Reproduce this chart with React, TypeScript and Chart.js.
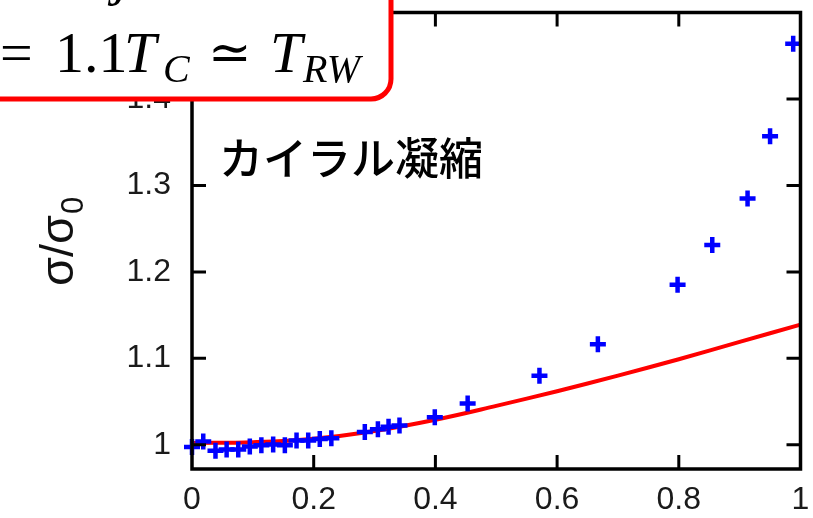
import React, { useEffect, useRef } from "react";
import { Chart, registerables } from "chart.js";
Chart.register(...registerables);

// measured σ/σ0 points (blue crosses)
const sigmaX = [0, 0.0185, 0.0386, 0.0569, 0.076, 0.095, 0.114, 0.1334, 0.1526, 0.1718, 0.191, 0.21, 0.229, 0.284, 0.3055, 0.323, 0.341, 0.399, 0.453, 0.571, 0.667, 0.798, 0.855, 0.913, 0.95, 0.988];
const sigmaY = [0.9975, 1.0037, 0.993, 0.9945, 0.9945, 0.998, 0.9995, 1.0003, 0.9995, 1.005, 1.005, 1.0066, 1.0075, 1.0147, 1.018, 1.021, 1.0224, 1.032, 1.0477, 1.08, 1.1163, 1.185, 1.231, 1.285, 1.357, 1.464];
// red curve
const fitX = [0, 0.1, 0.2, 0.3, 0.4, 0.5, 0.6, 0.7, 0.8, 0.9, 1.0];
const fitY = [1.002, 1.003, 1.007, 1.016, 1.029, 1.045, 1.062, 1.08, 1.099, 1.119, 1.139];
// ticks
const xTicks = [0, 0.2, 0.4, 0.6, 0.8, 1];
const yTicks = [1, 1.1, 1.2, 1.3, 1.4];
const xLabels = ["0", "0.2", "0.4", "0.6", "0.8", "1"];
const yLabels = ["1", "1.1", "1.2", "1.3", "1.4"];

const annotationText = "カイラル凝縮";
const yTitleMain = "σ/σ";
const yTitleSub = "0";

const framePlugin = {
  id: "frame",
  afterDatasetsDraw(chart: any) {
    const { ctx, chartArea: a, scales } = chart;
    ctx.save();
    ctx.strokeStyle = "#000";
    ctx.lineWidth = 3.5;
    ctx.strokeRect(a.left, a.top, a.right - a.left, a.bottom - a.top);
    const L = 14;
    ctx.lineWidth = 3;
    ctx.beginPath();
    for (const v of xTicks) {
      if (v <= 0 || v >= 1) continue;
      const px = scales.x.getPixelForValue(v);
      ctx.moveTo(px, a.bottom);
      ctx.lineTo(px, a.bottom - L);
      ctx.moveTo(px, a.top);
      ctx.lineTo(px, a.top + L);
    }
    for (const v of yTicks) {
      const py = scales.y.getPixelForValue(v);
      ctx.moveTo(a.left, py);
      ctx.lineTo(a.left + L, py);
      ctx.moveTo(a.right, py);
      ctx.lineTo(a.right - L, py);
    }
    ctx.stroke();
    ctx.restore();
  },
};

const annotPlugin = {
  id: "annot",
  afterDraw(chart: any) {
    const { ctx, chartArea: a } = chart;
    ctx.save();
    // y-axis title (rotated)
    ctx.save();
    ctx.translate(73, 286);
    ctx.rotate(-Math.PI / 2);
    ctx.fillStyle = "#111";
    ctx.textBaseline = "alphabetic";
    ctx.textAlign = "left";
    ctx.font = "47px 'Liberation Sans', Arial, sans-serif";
    ctx.fillText(yTitleMain, 0, 0);
    const w = ctx.measureText(yTitleMain).width;
    ctx.font = "31px 'Liberation Sans', Arial, sans-serif";
    ctx.fillText(yTitleSub, w + 1, 10);
    ctx.restore();

    // chiral condensate label
    ctx.fillStyle = "#000";
    ctx.font = "500 44px 'Noto Sans CJK JP', sans-serif";
    ctx.textBaseline = "alphabetic";
    ctx.textAlign = "left";
    ctx.fillText(annotationText, a.left + 27, 175);

    // legend-like box
    ctx.beginPath();
    ctx.roundRect(-30, -60, 421, 159, 20);
    ctx.fillStyle = "#fff";
    ctx.fill();
    ctx.lineWidth = 5;
    ctx.strokeStyle = "#ff0000";
    ctx.stroke();

    ctx.fillStyle = "#000";
    const main = "58px 'Liberation Serif', 'DejaVu Serif', serif";
    const mainIt = "italic 58px 'Liberation Serif', 'DejaVu Serif', serif";
    const subIt = "italic 40px 'Liberation Serif', 'DejaVu Serif', serif";
    const rel = "52px 'DejaVu Serif', serif";
    ctx.font = mainIt;
    ctx.fillText("j", 114, -6);
    ctx.font = main;
    ctx.fillText("=", 0, 72);
    ctx.fillText("1.1", 55, 72);
    ctx.font = mainIt;
    ctx.fillText("T", 124, 72);
    ctx.font = subIt;
    ctx.fillText("C", 163, 82);
    ctx.font = rel;
    ctx.fillText("≃", 208, 70);
    ctx.font = mainIt;
    ctx.fillText("T", 270, 72);
    ctx.font = subIt;
    ctx.fillText("RW", 303, 82);
    ctx.restore();
  },
};

const zeroPad = (s: any) => {
  s.paddingTop = 0;
  s.paddingBottom = 0;
  s.paddingLeft = 0;
  s.paddingRight = 0;
};

export default function App() {
  const ref = useRef<HTMLCanvasElement | null>(null);
  useEffect(() => {
    if (!ref.current) return;
    const tickFont = { family: "'Liberation Sans', Arial, sans-serif", size: 32 };
    const chart = new Chart(ref.current, {
      type: "scatter",
      data: {
        datasets: [
          {
            label: "data",
            data: sigmaX.map((x, i) => ({ x, y: sigmaY[i] })),
            pointStyle: "cross",
            pointRadius: 8,
            pointHoverRadius: 8,
            borderColor: "#0000ff",
            backgroundColor: "#0000ff",
            pointBorderWidth: 4.5,
            borderWidth: 4.5,
            showLine: false,
            clip: false as any,
          },
          {
            label: "fit",
            data: fitX.map((x, i) => ({ x, y: fitY[i] })),
            showLine: true,
            borderColor: "#ff0000",
            borderWidth: 4,
            pointRadius: 0,
            tension: 0.4,
          },
        ],
      },
      options: {
        animation: false,
        responsive: false,
        events: [],
        layout: { padding: { top: 10, right: 11, left: 0, bottom: 0 } },
        plugins: { legend: { display: false }, tooltip: { enabled: false } },
        scales: {
          x: {
            type: "linear",
            min: 0,
            max: 1,
            afterBuildTicks: (s: any) => {
              s.ticks = xTicks.map((v) => ({ value: v }));
            },
            afterFit: (s: any) => {
              s.height = 49;
              zeroPad(s);
            },
            grid: { display: false, drawTicks: false },
            border: { display: false },
            ticks: {
              font: tickFont,
              color: "#1a1a1a",
              padding: 12,
              maxRotation: 0,
              autoSkip: false,
              callback: (v: any) => xLabels[xTicks.indexOf(Number(v))] ?? "",
            },
          },
          y: {
            type: "linear",
            min: 0.972,
            max: 1.5,
            afterBuildTicks: (s: any) => {
              s.ticks = yTicks.map((v) => ({ value: v }));
            },
            afterFit: (s: any) => {
              s.width = 192;
              zeroPad(s);
            },
            grid: { display: false, drawTicks: false },
            border: { display: false },
            ticks: {
              font: tickFont,
              color: "#1a1a1a",
              padding: 21,
              autoSkip: false,
              callback: (v: any) => yLabels[yTicks.indexOf(Number(v))] ?? "",
            },
          },
        },
      },
      plugins: [framePlugin, annotPlugin],
    });
    return () => chart.destroy();
  }, []);
  return (
    <div style={{ position: "fixed", left: 0, top: 0, width: 813, height: 518, background: "#fff" }}>
      <canvas ref={ref} width={813} height={518} style={{ display: "block" }} />
    </div>
  );
}
